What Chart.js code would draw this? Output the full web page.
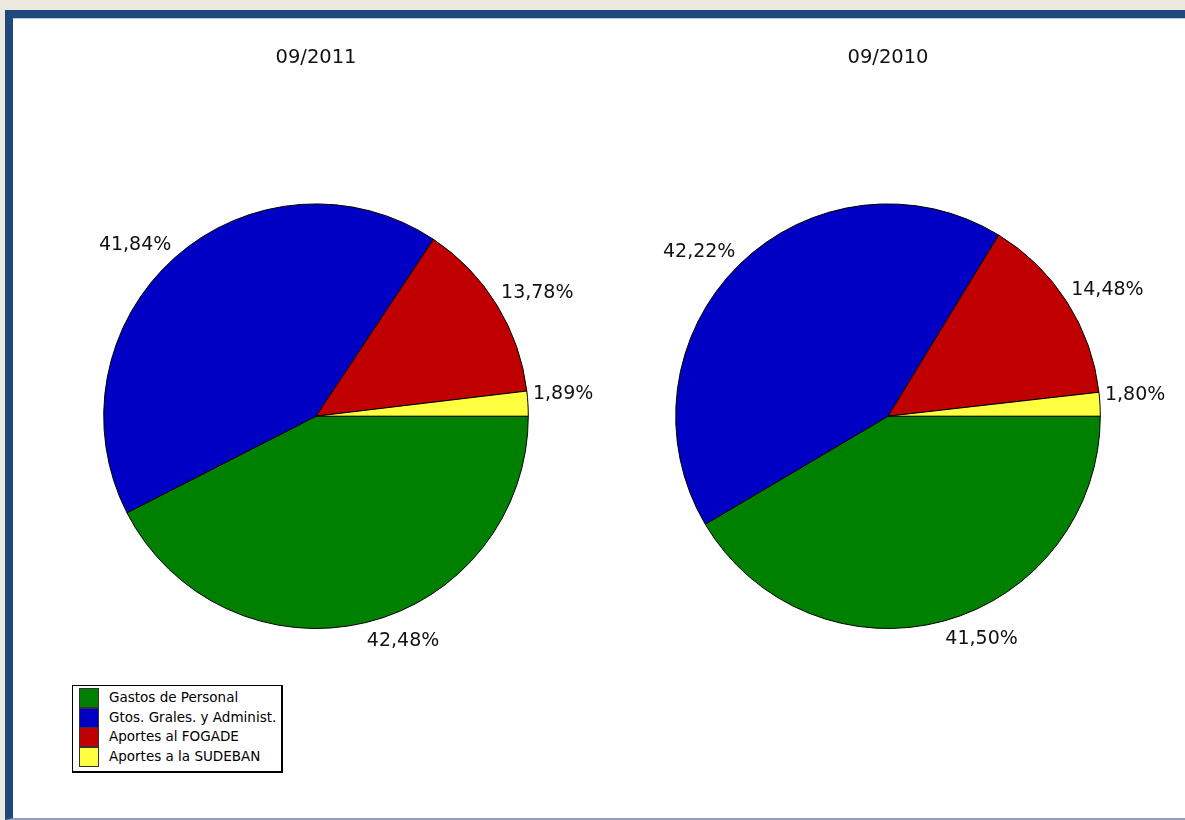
<!DOCTYPE html>
<html>
<head>
<meta charset="utf-8">
<script src="https://cdn.jsdelivr.net/npm/chart.js@4"></script>
<style>
  html, body { margin:0; padding:0; }
  body { width:1185px; height:820px; background:#ece9df; position:relative; overflow:hidden; font-family:"DejaVu Sans", sans-serif; }
  #frame { position:absolute; left:5px; top:10px; width:1200px; height:800px; background:#fff;
           border-left:8px solid #1f497d; border-top:8px solid #1f497d; border-bottom:2px solid #8ea2bd;
           box-shadow: inset 0 1px 0 #b9c8dc; }
  .wrap { position:absolute; }
  #legend { position:absolute; left:72px; top:685px; width:208px; height:85px; background:#fff;
            border-style:solid; border-color:#000; border-width:1px 2px 2px 1px; }
  .row { position:absolute; left:6px; height:20px; }
  .sw { position:absolute; left:0; top:0; width:18px; height:18px; border:1px solid #333; }
  .lt { position:absolute; left:30px; top:1px; font-size:13.5px; white-space:nowrap; color:#000; }
</style>
</head>
<body>
<div id="frame"></div>
<div class="wrap" style="left:14px;top:19px;width:590px;height:799px;"><canvas id="c1"></canvas></div>
<div class="wrap" style="left:604px;top:19px;width:581px;height:799px;"><canvas id="c2"></canvas></div>
<div id="legend"></div>
<script>
const categories = ["Gastos de Personal", "Gtos. Grales. y Administ.", "Aportes al FOGADE", "Aportes a la SUDEBAN"];
const colors = ["#008000", "#0000c4", "#c00000", "#ffff40"];
const titles = ["09/2011", "09/2010"];
const values2011 = [42.48, 41.84, 13.78, 1.89];
const values2010 = [41.50, 42.22, 14.48, 1.80];

const labelPlugin = {
  id: 'outLabels',
  afterDatasetsDraw(chart) {
    const ctx = chart.ctx;
    const meta = chart.getDatasetMeta(0);
    const data = chart.data.datasets[0].data;
    ctx.save();
    ctx.font = '19px "DejaVu Sans"';
    ctx.fillStyle = '#111';
    meta.data.forEach((arc, i) => {
      const p = arc.getProps(['x','y','startAngle','endAngle','outerRadius'], true);
      const mid = (p.startAngle + p.endAngle) / 2;
      const r = p.outerRadius + 5;
      const cx = p.x + Math.cos(mid) * r;
      let cy = p.y + Math.sin(mid) * r;
      ctx.textAlign = Math.cos(mid) >= 0 ? 'left' : 'right';
      if (Math.sin(mid) < 0) { ctx.textBaseline = 'alphabetic'; cy -= 4; }
      else { ctx.textBaseline = 'top'; cy += 4; }
      const txt = data[i].toFixed(2).replace('.', ',') + '%';
      ctx.fillText(txt, cx, cy);
    });
    ctx.restore();
  }
};

function makePie(id, values, title, pad) {
  return new Chart(document.getElementById(id), {
    type: 'pie',
    data: { labels: categories, datasets: [{ data: values, backgroundColor: colors, borderColor: '#000', borderWidth: 1 }] },
    options: {
      responsive: true, maintainAspectRatio: false, animation: false,
      rotation: 90,
      layout: { padding: pad },
      plugins: {
        legend: { display: false },
        tooltip: { enabled: false },
        title: { display: true, text: title, color: '#111', font: { family: 'DejaVu Sans', size: 19.5, weight: 'normal', lineHeight: 1.2 }, padding: { top: 0, bottom: 134 } }
      }
    },
    plugins: [labelPlugin]
  });
}
makePie('c1', values2011, titles[0], { left: 89, right: 75, top: 27, bottom: 189 });
makePie('c2', values2010, titles[1], { left: 71, right: 84, top: 27, bottom: 189 });

const lg = document.getElementById('legend');
categories.forEach((c, i) => {
  const row = document.createElement('div');
  row.className = 'row';
  row.style.top = (2 + i * 19.7) + 'px';
  const sw = document.createElement('div');
  sw.className = 'sw'; sw.style.background = colors[i];
  const t = document.createElement('div');
  t.className = 'lt'; t.textContent = c;
  row.appendChild(sw); row.appendChild(t);
  lg.appendChild(row);
});
</script>
</body>
</html>
